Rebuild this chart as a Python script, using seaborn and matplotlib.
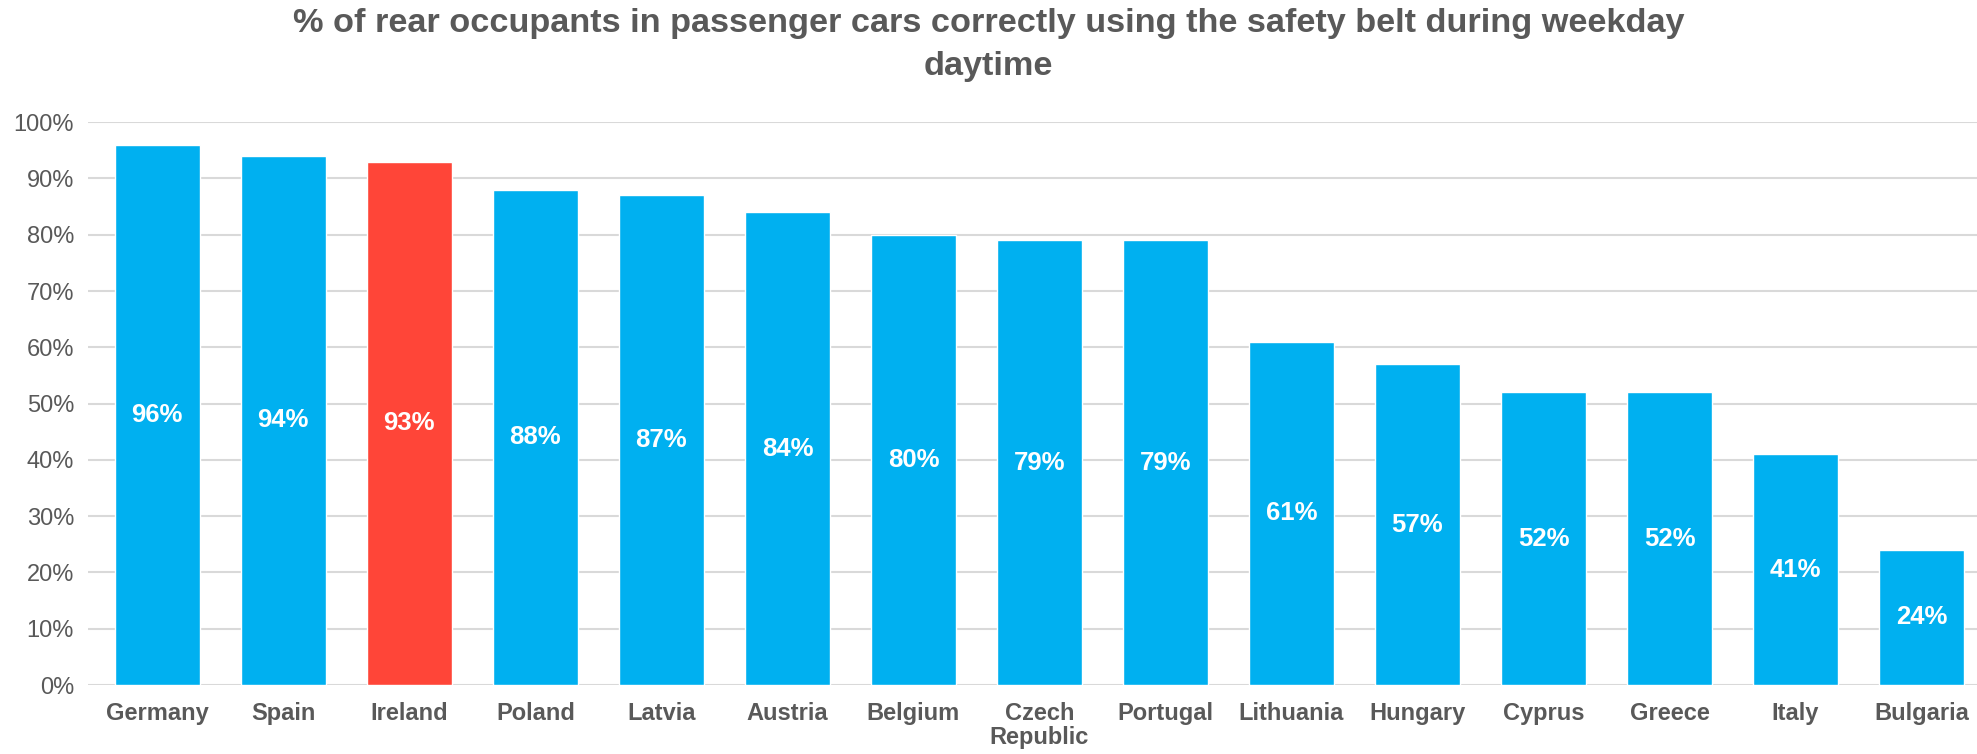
import matplotlib
matplotlib.use('Agg')
import matplotlib.pyplot as plt
import seaborn as sns
from matplotlib.ticker import FuncFormatter

# Data
countries = ['Germany', 'Spain', 'Ireland', 'Poland', 'Latvia', 'Austria',
             'Belgium', 'Czech\nRepublic', 'Portugal', 'Lithuania', 'Hungary',
             'Cyprus', 'Greece', 'Italy', 'Bulgaria']
belt_use = [96, 94, 93, 88, 87, 84, 80, 79, 79, 61, 57, 52, 52, 41, 24]
highlight = 'Ireland'

blue = '#00B0F0'
red = '#FF4538'
grey_text = '#595959'
bar_colors = {c: (red if c == highlight else blue) for c in countries}

sns.set_style('white')
plt.rcParams['font.family'] = ['Liberation Sans', 'DejaVu Sans']

fig = plt.figure(figsize=(19.77, 7.54), dpi=100)
ax = fig.add_axes([0.0445, 0.0915, 0.9555, 0.7465])

sns.barplot(x=countries, y=belt_use, hue=countries, palette=bar_colors,
            width=0.67, legend=False, ax=ax, saturation=1)

ax.set_ylim(0, 100)
ax.set_xlim(-0.55, 14.44)
ax.set_yticks(range(0, 101, 10))
ax.yaxis.set_major_formatter(FuncFormatter(lambda v, p: f'{v:.0f}%'))
ax.grid(axis='y', color='#D9D9D9', linewidth=1.5)
ax.set_axisbelow(True)
for s in ax.spines.values():
    s.set_visible(False)
ax.tick_params(axis='both', length=0)
ax.tick_params(axis='y', labelsize=17, labelcolor=grey_text, pad=10)
ax.tick_params(axis='x', labelsize=17, labelcolor=grey_text, pad=12)
for lbl in ax.get_xticklabels():
    lbl.set_fontweight('bold')
    lbl.set_linespacing(1.1)

# value labels in the middle of each bar
for i, v in enumerate(belt_use):
    ax.text(i, v / 2, f'{v}%', ha='center', va='center', color='white',
            fontsize=18.5, fontweight='bold')

fig.suptitle('% of rear occupants in passenger cars correctly using the safety belt during weekday\ndaytime',
             x=0.5, y=0.99, fontsize=24.7, fontweight='bold', color=grey_text,
             linespacing=1.5)

fig.savefig('out.png', dpi=100)
